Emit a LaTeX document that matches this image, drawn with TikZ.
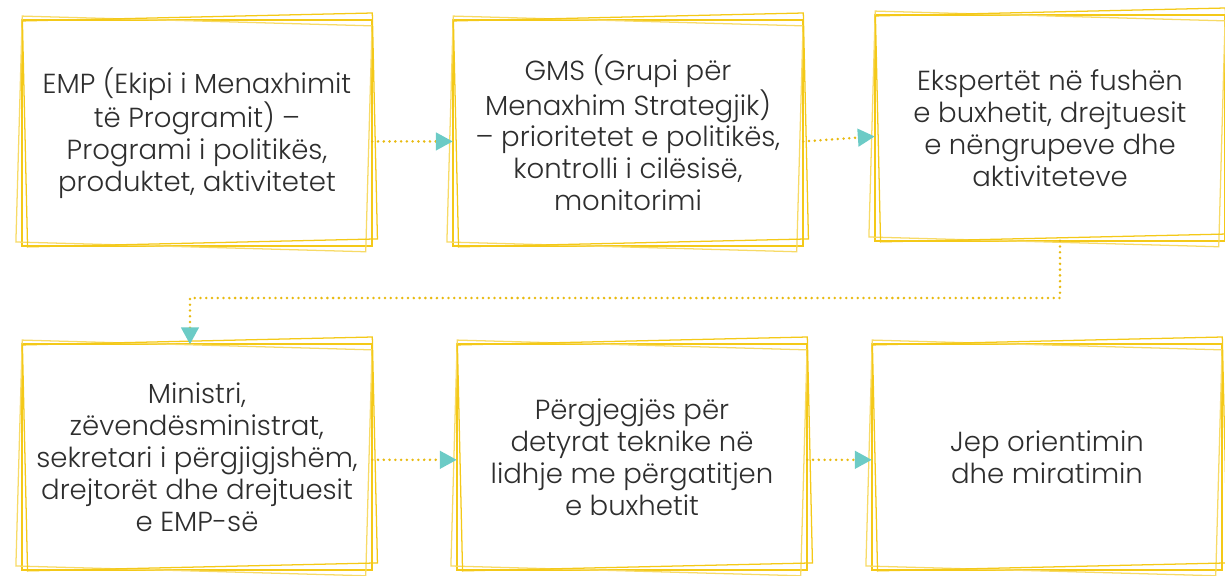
\documentclass[tikz,border=0pt]{standalone}
\usepackage{fontspec}
\setmainfont{Poppins}[UprightFont={* Light}]
\usetikzlibrary{arrows.meta,calc}
\definecolor{frameyellow}{HTML}{F4C918}
\definecolor{paleyellow}{HTML}{F7DA66}
\definecolor{arrowteal}{HTML}{6CCBC6}
\definecolor{dotyellow}{HTML}{E8BA10}
\definecolor{textgray}{HTML}{2E2E2E}
\tikzset{
    card/.style={minimum width=350*0.025cm, minimum height=225*0.025cm, align=center,
        text=textgray, font=\fontsize{19.6}{22.7}\selectfont},
    flow/.style={dotyellow, line width=2pt, dash pattern=on 0pt off 4.1pt, line cap=round,
        -{Triangle[length=12pt,width=12.5pt,color=arrowteal]}},
}
% three slightly turned frames round a card
\newcommand{\triframe}[1]{
    \draw[frameyellow, line width=1.3pt] ($(#1.south west)+(0,0)$) rectangle ($(#1.north east)+(0,0)$);
    \begin{scope}[shift={(#1.center)}, rotate=-1.6]
        \draw[paleyellow, line width=0.9pt] (-178,-112) rectangle (172,114);
    \end{scope}
    \begin{scope}[shift={(#1.center)}, rotate=1.3]
        \draw[frameyellow, line width=0.9pt] (-172,-116) rectangle (178,110);
    \end{scope}
}
\begin{document}
\begin{tikzpicture}[x=0.025cm, y=-0.025cm]
    \useasboundingbox (0,0) rectangle (1225,575);
    \node[card] (b1) at (197,133) {EMP (Ekipi i Menaxhimit\\të Programit) --\\Programi i politikës,\\produktet, aktivitetet};
    \node[card] (b2) at (628,133) {GMS (Grupi për\\Menaxhim Strategjik)\\-- prioritetet e politikës,\\kontrolli i cilësisë,\\monitorimi};
    \node[card] (b3) at (1050,128) {Ekspertët në fushën\\e buxhetit, drejtuesit\\e nëngrupeve dhe\\aktiviteteve};
    \node[card] (b4) at (197,457) {Ministri,\\zëvendësministrat,\\sekretari i përgjigjshëm,\\drejtorët dhe drejtuesit\\e EMP-së};
    \node[card] (b5) at (632,457) {Përgjegjës për\\detyrat teknike në\\lidhje me përgatitjen\\e buxhetit};
    \node[card] (b6) at (1047,457) {Jep orientimin\\dhe miratimin};
    \foreach \b in {b1,b2,b3,b4,b5,b6} {\triframe{\b}}
    \draw[flow] ([yshift=-6pt]b1.east) -- ([yshift=-6pt]b2.west);
    \draw[flow] ([yshift=-6pt]b2.east) -- ([yshift=-6pt]b3.west);
    \coordinate (turn) at (1060,298);
    \draw[flow] (b3.south -| turn) -- (turn) -| ([xshift=-5pt]b4.north);
    \draw[flow] ([yshift=-2pt]b4.east) -- ([yshift=-2pt]b5.west);
    \draw[flow] ([yshift=-2pt]b5.east) -- ([yshift=-2pt]b6.west);
\end{tikzpicture}
\end{document}
